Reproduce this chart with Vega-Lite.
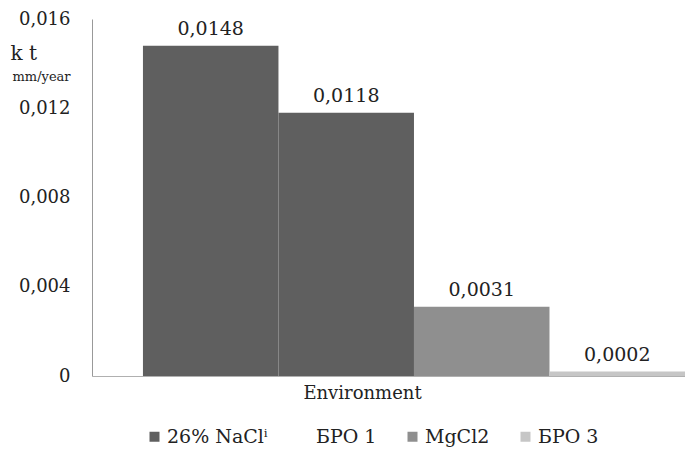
{
  "$schema": "https://vega.github.io/schema/vega-lite/v6.json",
  "width": 593,
  "height": 357,
  "autosize": {"type": "none"},
  "padding": {"left": 92, "top": 19, "right": 0, "bottom": 81},
  "background": "white",
  "data": {
    "values": [
      {"env": "Environment", "series": "26% NaClⁱ", "kt": 0.0148, "label": "0,0148"},
      {"env": "Environment", "series": "БРО 1", "kt": 0.0118, "label": "0,0118"},
      {"env": "Environment", "series": "MgCl2", "kt": 0.0031, "label": "0,0031"},
      {"env": "Environment", "series": "БРО 3", "kt": 0.0002, "label": "0,0002"}
    ]
  },
  "encoding": {
    "x": {
      "field": "env",
      "type": "nominal",
      "scale": {"paddingInner": 0, "paddingOuter": 0.047, "align": 1},
      "axis": {
        "labels": false,
        "ticks": false,
        "domainColor": "#b0b0b0",
        "title": "Environment",
        "titleFont": "DejaVu Serif",
        "titleFontSize": 18,
        "titleFontWeight": "normal",
        "titleColor": "#222",
        "titleX": 270,
        "titleY": 17,
        "titleBaseline": "middle"
      }
    },
    "xOffset": {
      "field": "series",
      "type": "nominal",
      "scale": {"domain": ["26% NaClⁱ", "БРО 1", "MgCl2", "БРО 3"], "paddingInner": 0, "paddingOuter": 0}
    }
  },
  "layer": [
    {
      "mark": {"type": "bar"},
      "encoding": {
        "y": {
          "field": "kt",
          "type": "quantitative",
          "scale": {"domain": [0, 0.016], "nice": false},
          "axis": {
            "values": [0, 0.004, 0.008, 0.012, 0.016],
            "labelExpr": "datum.value == 0 ? '0' : replace(format(datum.value, '.3f'), '.', ',')",
            "grid": false,
            "ticks": false,
            "labelPadding": 22,
            "labelFont": "DejaVu Serif",
            "labelFontSize": 18,
            "labelColor": "#222",
            "domainColor": "#999",
            "title": "k t",
            "titleFont": "DejaVu Serif",
            "titleFontSize": 20,
            "titleFontWeight": "normal",
            "titleColor": "#222",
            "titleAngle": 0,
            "titleAlign": "left",
            "titleBaseline": "middle",
            "titleX": -82,
            "titleY": 34
          }
        },
        "color": {
          "field": "series",
          "type": "nominal",
          "scale": {
            "domain": ["26% NaClⁱ", "БРО 1", "MgCl2", "БРО 3"],
            "range": ["#5f5f5f", "#5f5f5f", "#8f8f8f", "#c6c6c6"]
          },
          "legend": {
            "title": null,
            "orient": "none",
            "direction": "horizontal",
            "legendX": 53,
            "legendY": 408,
            "symbolType": "square",
            "symbolSize": 100,
            "symbolStrokeWidth": 0,
            "labelFont": "DejaVu Serif",
            "labelFontSize": 19,
            "labelColor": "#222",
            "labelOffset": 3,
            "columnPadding": 26,
            "encode": {
              "symbols": {
                "update": {"opacity": {"signal": "datum.label === 'БРО 1' ? 0 : 1"}}
              }
            }
          }
        }
      }
    },
    {
      "mark": {"type": "text", "baseline": "bottom", "dy": -7, "font": "DejaVu Serif", "fontSize": 19, "color": "#222"},
      "encoding": {
        "y": {
          "field": "kt",
          "type": "quantitative",
          "scale": {"domain": [0, 0.016], "nice": false},
          "axis": {
            "labels": false,
            "ticks": false,
            "domain": false,
            "grid": false,
            "orient": "left",
            "title": "mm/year",
            "titleFont": "DejaVu Serif",
            "titleFontSize": 13,
            "titleFontWeight": "normal",
            "titleColor": "#222",
            "titleAngle": 0,
            "titleAlign": "left",
            "titleBaseline": "middle",
            "titleX": -80,
            "titleY": 57
          }
        },
        "text": {"field": "label"}
      }
    }
  ],
  "resolve": {"axis": {"y": "independent"}},
  "config": {"view": {"stroke": null}}
}
